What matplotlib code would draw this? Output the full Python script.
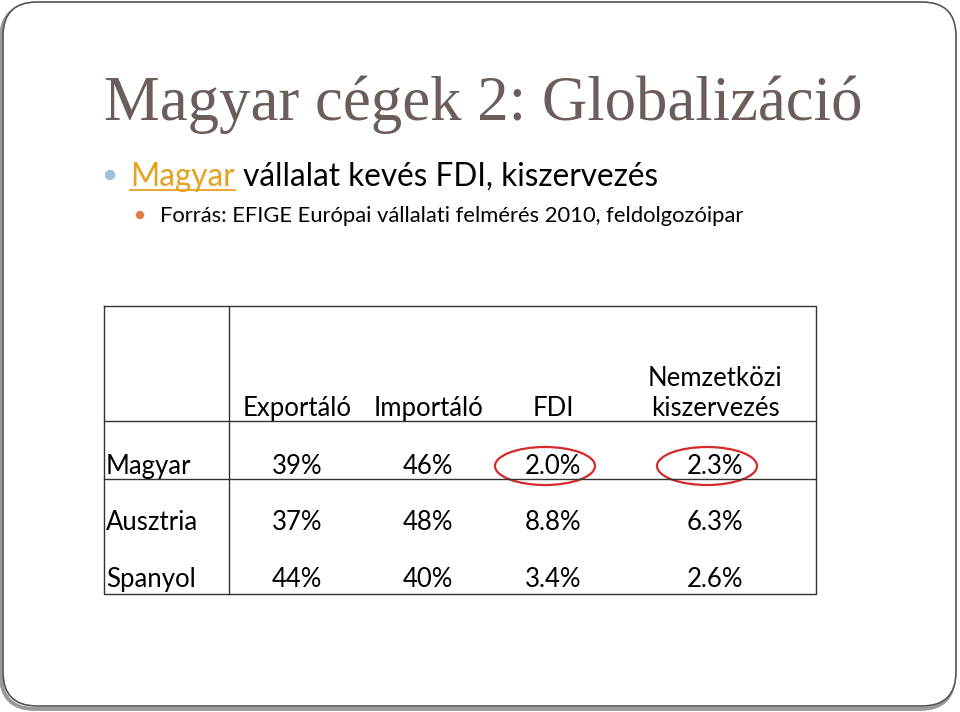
import matplotlib.pyplot as plt
from matplotlib.patches import FancyBboxPatch, Ellipse, Circle

# slide text
title = "Magyar cégek 2: Globalizáció"
bullet_link = "Magyar"
bullet_rest = " vállalat kevés FDI, kiszervezés"
source = "Forrás: EFIGE Európai vállalati felmérés 2010, feldolgozóipar"

# table data
columns = ["Exportáló", "Importáló", "FDI", "Nemzetközi\nkiszervezés"]
countries = ["Magyar", "Ausztria", "Spanyol"]
exporter = ["39%", "37%", "44%"]
importer = ["46%", "48%", "40%"]
fdi = ["2.0%", "8.8%", "3.4%"]
outsourcing = ["2.3%", "6.3%", "2.6%"]
highlighted = [(0, 2), (0, 3)]  # circled cells (row, col)

W, H = 960, 712
fig = plt.figure(figsize=(W / 100, H / 100), dpi=100)
ax = fig.add_axes([0, 0, 1, 1])
ax.set_xlim(0, W)
ax.set_ylim(H, 0)
ax.axis("off")

body_font = ["Lato", "DejaVu Sans"]

# slide frame with shadow (left/bottom)
shadow = FancyBboxPatch((1, 5), W - 7, H - 8, boxstyle="round,pad=0,rounding_size=34",
                        fc="none", ec="#9a9a9a", lw=2.8)
ax.add_patch(shadow)
frame = FancyBboxPatch((3, 2), W - 7, H - 8, boxstyle="round,pad=0,rounding_size=34",
                       fc="white", ec="#555555", lw=1.2)
ax.add_patch(frame)

# title
ax.text(104, 120, title, fontsize=45.2, family="Liberation Serif", color="#6b5e5a",
        va="baseline", ha="left")

# first bullet
ax.add_patch(Circle((110, 175), 4.5, color="#a3bfd9"))
t1 = ax.text(130, 186, bullet_link, fontsize=22.7, family=body_font, color="#e4a221",
             va="baseline", ha="left")
fig.canvas.draw()
bb = t1.get_window_extent()
ax.plot([bb.x0, bb.x1], [190, 190], color="#e4a221", lw=1.3)
ax.text(bb.x1, 186, bullet_rest, fontsize=22.7, family=body_font, color="black",
        va="baseline", ha="left")

# second bullet
ax.add_patch(Circle((140, 215), 3.5, color="#e07b49"))
ax.text(160, 222, source, fontsize=15.85, family=body_font, color="black",
        va="baseline", ha="left")

# table grid
left, right, top, bottom = 104, 816, 306, 594
col_split = 229
row_lines = [421, 479]
ax.plot([left, right, right, left, left], [top, top, bottom, bottom, top], color="#333333", lw=1)
ax.plot([col_split, col_split], [top, bottom], color="#333333", lw=1)
for y in row_lines:
    ax.plot([left, right], [y, y], color="#333333", lw=1)

col_x = [297, 428, 553, 715]
header_y = 416
row_y = [474, 530, 587]
tsize = 18.5

for cx, label in zip(col_x, columns):
    ax.text(cx, header_y, label, fontsize=tsize, family=body_font, ha="center",
            va="baseline", linespacing=1.25, multialignment="center")

table = [exporter, importer, fdi, outsourcing]
for i, (name, y) in enumerate(zip(countries, row_y)):
    ax.text(106, y, name, fontsize=tsize, family=body_font, ha="left", va="baseline")
    for j, cx in enumerate(col_x):
        ax.text(cx, y, table[j][i], fontsize=tsize, family=body_font, ha="center",
                va="baseline")

for r, c in highlighted:
    ax.add_patch(Ellipse((col_x[c] - 8, row_y[r] - 8), 100, 38, fc="none",
                         ec="#d42a2a", lw=1.6))

fig.savefig("out.png", dpi=100)
